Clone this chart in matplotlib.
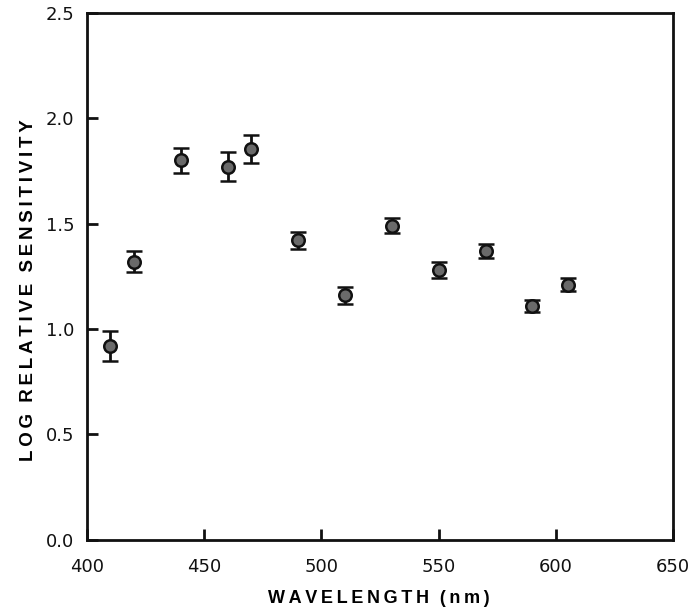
import numpy as np
import matplotlib.pyplot as plt

# wavelengths (nm) and log relative sensitivity
wavelength = [410, 420, 440, 460, 470, 490, 510, 530, 550, 570, 590, 605]
log_sens = [0.92, 1.32, 1.80, 1.77, 1.855, 1.42, 1.16, 1.49, 1.28, 1.37, 1.11, 1.21]
sens_err = [0.07, 0.05, 0.06, 0.07, 0.065, 0.04, 0.04, 0.035, 0.04, 0.035, 0.03, 0.03]

x_ticks = [400, 450, 500, 550, 600, 650]
y_ticks = [0.0, 0.5, 1.0, 1.5, 2.0, 2.5]

plt.rcParams['font.family'] = ['Liberation Sans', 'DejaVu Sans']

# small letter spacing like the typeset labels
def spaced(words):
    return '\u2009\u2009\u2009'.join('\u2009'.join(w) for w in words)

fig = plt.figure(figsize=(6.99, 6.12), dpi=100)
ax = fig.add_axes([0.1245, 0.118, 0.8385, 0.861])

ax.errorbar(wavelength, log_sens, yerr=sens_err, fmt='o', color='#111111',
            markerfacecolor='#6a6a6a', markeredgecolor='#111111', markeredgewidth=1.8,
            markersize=9, elinewidth=2, capsize=6, capthick=2)

ax.set_xlim(400, 650)
ax.set_ylim(0, 2.5)
ax.set_xticks(x_ticks)
ax.set_yticks(y_ticks)
ax.set_xticklabels([str(v) for v in x_ticks], family='DejaVu Sans', fontsize=13)
ax.set_yticklabels(['%.1f' % v for v in y_ticks], family='DejaVu Sans', fontsize=13)

ax.tick_params(direction='in', length=8, width=2, colors='#111111')
ax.tick_params(axis='x', pad=13)
ax.tick_params(axis='y', pad=9)
for s in ax.spines.values():
    s.set_linewidth(2)
    s.set_color('#111111')

ax.set_xlabel(spaced(['WAVELENGTH', '(nm)']), fontsize=13, fontweight='bold')
ax.set_ylabel(spaced(['LOG', 'RELATIVE', 'SENSITIVITY']), fontsize=13.5, fontweight='bold')
ax.xaxis.set_label_coords(0.497, -0.095)
ax.yaxis.set_label_coords(-0.085, 0.474)

fig.savefig('out.png', dpi=100)
